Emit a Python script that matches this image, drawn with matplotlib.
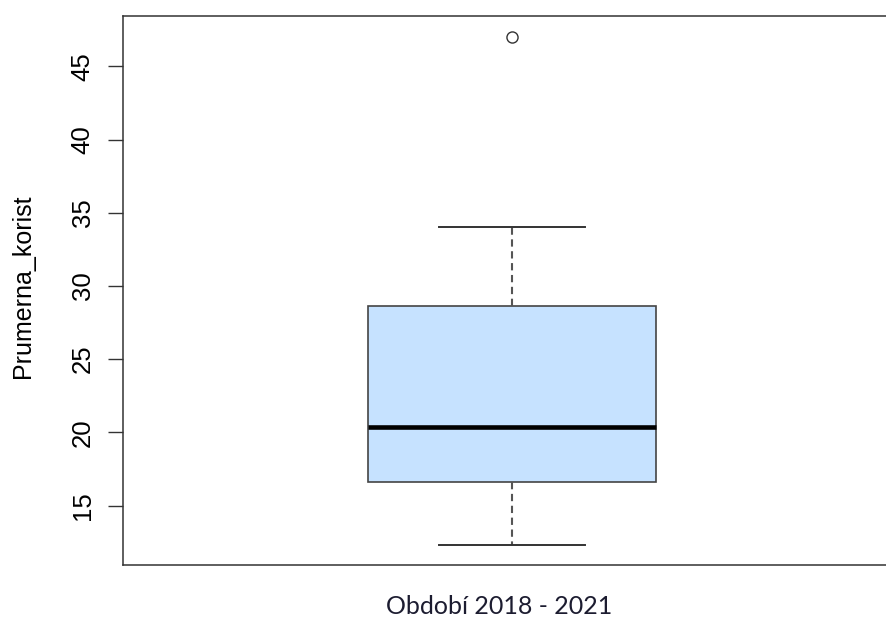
import matplotlib
matplotlib.use("Agg")
import matplotlib.pyplot as plt

# box summary
period = "Období 2018 - 2021"
q1 = 16.63
median = 20.38
q3 = 28.65
whisker_low = 12.28
whisker_high = 34.0
outliers = [46.98]
y_ticks = [15, 20, 25, 30, 35, 40, 45]

W, H = 887, 619
fig = plt.figure(figsize=(W / 100, H / 100), dpi=100)
# plot region runs past the right edge of the picture, like the source
ax = fig.add_axes([123 / W, (H - 565) / H, 778 / W, (565 - 16) / H])

stats = [{
    "med": median, "q1": q1, "q3": q3,
    "whislo": whisker_low, "whishi": whisker_high,
    "fliers": outliers, "label": "",
}]
ax.bxp(stats, positions=[1.0], widths=0.74, patch_artist=True,
       boxprops=dict(facecolor="#C6E2FF", edgecolor="#444444", linewidth=1.2),
       medianprops=dict(color="black", linewidth=3.3, solid_capstyle="butt"),
       whiskerprops=dict(color="#555555", linewidth=1.5, linestyle=(0, (3.5, 2.2))),
       capprops=dict(color="#333333", linewidth=1.4),
       capwidths=0.373,
       flierprops=dict(marker="o", markersize=8, markerfacecolor="white",
                       markeredgecolor="#333333", markeredgewidth=1.0))

ax.set_xlim(0, 2)
ax.set_ylim(10.94, 48.44)
ax.set_xticks([])
ax.set_yticks(y_ticks)
ax.set_yticklabels([str(t) for t in y_ticks], rotation=90, va="center",
                   family="Liberation Sans", fontsize=18.5)
ax.tick_params(axis="y", length=10.5, width=1.0, color="#333333", pad=10)
for s in ("left", "top", "bottom"):
    ax.spines[s].set_color("#333333")
    ax.spines[s].set_linewidth(1.1)
ax.spines["right"].set_visible(False)

fig.text(23 / W, 1 - 286 / H, "Prumerna_korist", rotation=90,
         ha="center", va="center", family="Liberation Sans", fontsize=18)
fig.text(499 / W, 1 - 606 / H, period, ha="center", va="center",
         family="Lato", fontsize=18, color="#1c1c30")

fig.savefig("out.png", dpi=100)
